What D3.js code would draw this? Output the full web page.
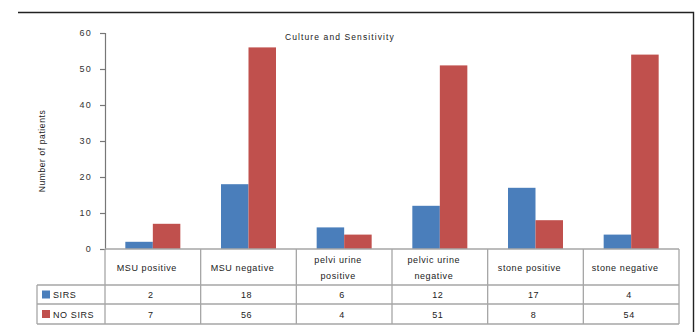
<!DOCTYPE html>
<html>
<head>
<meta charset="utf-8">
<script src="https://cdn.jsdelivr.net/npm/d3@7/dist/d3.min.js"></script>
<style>
  html, body { margin: 0; padding: 0; background: #fff; }
  svg { display: block; font-family: "Liberation Sans", Arial, sans-serif; }
</style>
</head>
<body>
<script>
// ---- data ----
const categories = ["MSU positive", "MSU negative", "pelvi urine positive", "pelvic urine negative", "stone positive", "stone negative"];
const categoryLines = [["MSU positive"], ["MSU negative"], ["pelvi urine", "positive"], ["pelvic urine", "negative"], ["stone positive"], ["stone negative"]];
const seriesNames = ["SIRS", "NO SIRS"];
const sirs = [2, 18, 6, 12, 17, 4];
const noSirs = [7, 56, 4, 51, 8, 54];
const yTicks = [0, 10, 20, 30, 40, 50, 60];
const title = "Culture and Sensitivity";
const yTitle = "Number of patients";
const colors = ["#4a7ebb", "#c0504d"];

const W = 697, H = 332;
const svg = d3.select("body").append("svg").attr("width", W).attr("height", H);

// frame (top + right)
svg.append("path")
  .attr("d", `M18,12.5 H693.5 V${H}`)
  .attr("fill", "none").attr("stroke", "#222").attr("stroke-width", 1.4);

const plotL = 105, plotR = 679, plotT = 33, plotB = 249;
const x = d3.scaleBand().domain(categories).range([plotL, plotR]).padding(0);
const y = d3.scaleLinear().domain([0, 60]).range([plotB, plotT]);
const groupW = 55;
const xs = d3.scaleBand().domain(seriesNames).range([0, groupW]).padding(0);

// bars
const seriesData = [sirs, noSirs];
seriesData.forEach((vals, si) => {
  svg.append("g").selectAll("rect").data(vals).join("rect")
    .attr("x", (d, i) => x(categories[i]) + (x.bandwidth() - groupW) / 2 + xs(seriesNames[si]))
    .attr("width", xs.bandwidth())
    .attr("y", d => y(d))
    .attr("height", d => plotB - y(d))
    .attr("fill", colors[si]);
});

// y axis
const yAxis = svg.append("g").attr("transform", `translate(${plotL},0)`)
  .call(d3.axisLeft(y).tickValues(yTicks).tickSize(5).tickPadding(8));
yAxis.select(".domain").attr("stroke", "#777").attr("stroke-width", 1.2);
yAxis.selectAll(".tick line").attr("stroke", "#777").attr("stroke-width", 1.2);
yAxis.selectAll(".tick text").attr("font-size", 9).attr("fill", "#333")
  .attr("letter-spacing", 1.2).attr("font-family", "Liberation Sans, Arial, sans-serif");

// y title
svg.append("text")
  .attr("transform", `translate(45,151) rotate(-90)`)
  .attr("text-anchor", "middle").attr("font-size", 8.5).attr("fill", "#222")
  .attr("letter-spacing", 0.6)
  .text(yTitle);

// chart title
svg.append("text").attr("x", 285).attr("y", 40)
  .attr("font-size", 8.5).attr("fill", "#222").attr("letter-spacing", 1.1)
  .text(title);

// data table
const tableLeft = 37, hdrB = 285, r1B = 304, r2B = 324;
const grid = svg.append("g").attr("stroke", "#a6a6a6").attr("stroke-width", 1.3).attr("fill", "none");
// horizontal lines
grid.append("line").attr("x1", plotL).attr("x2", plotR).attr("y1", plotB).attr("y2", plotB);
[hdrB, r1B, r2B].forEach(yy => grid.append("line").attr("x1", tableLeft).attr("x2", plotR).attr("y1", yy).attr("y2", yy));
// vertical lines
grid.append("line").attr("x1", tableLeft).attr("x2", tableLeft).attr("y1", hdrB).attr("y2", r2B);
categories.forEach(c => {
  grid.append("line").attr("x1", x(c)).attr("x2", x(c)).attr("y1", plotB).attr("y2", r2B);
});
grid.append("line").attr("x1", plotR).attr("x2", plotR).attr("y1", plotB).attr("y2", r2B);

// header labels
categories.forEach((c, i) => {
  const lines = categoryLines[i];
  const cx = x(c) + x.bandwidth() / 2 - 6;
  const cy = (plotB + hdrB) / 2;
  const lh = 16;
  const t = svg.append("text").attr("text-anchor", "middle").attr("font-size", 9)
    .attr("fill", "#222").attr("letter-spacing", 0.6);
  lines.forEach((ln, k) => {
    t.append("tspan").attr("x", cx)
      .attr("y", cy + (k - (lines.length - 1) / 2) * lh + 3.5)
      .text(ln);
  });
});

// row legends and values
const rowYs = [(hdrB + r1B) / 2, (r1B + r2B) / 2];
seriesNames.forEach((s, si) => {
  const cy = rowYs[si];
  svg.append("rect").attr("x", 42).attr("y", cy - 4).attr("width", 8).attr("height", 8).attr("fill", colors[si]);
  svg.append("text").attr("x", 53).attr("y", cy + 3.5).attr("font-size", 9).attr("fill", "#222")
    .attr("letter-spacing", 0.6).text(s);
  svg.append("g").selectAll("text").data(seriesData[si]).join("text")
    .attr("x", (d, i) => x(categories[i]) + x.bandwidth() / 2 - 2)
    .attr("y", cy + 3.5).attr("text-anchor", "middle").attr("font-size", 9)
    .attr("fill", "#222").attr("letter-spacing", 0.6)
    .text(d => d);
});
</script>
</body>
</html>
